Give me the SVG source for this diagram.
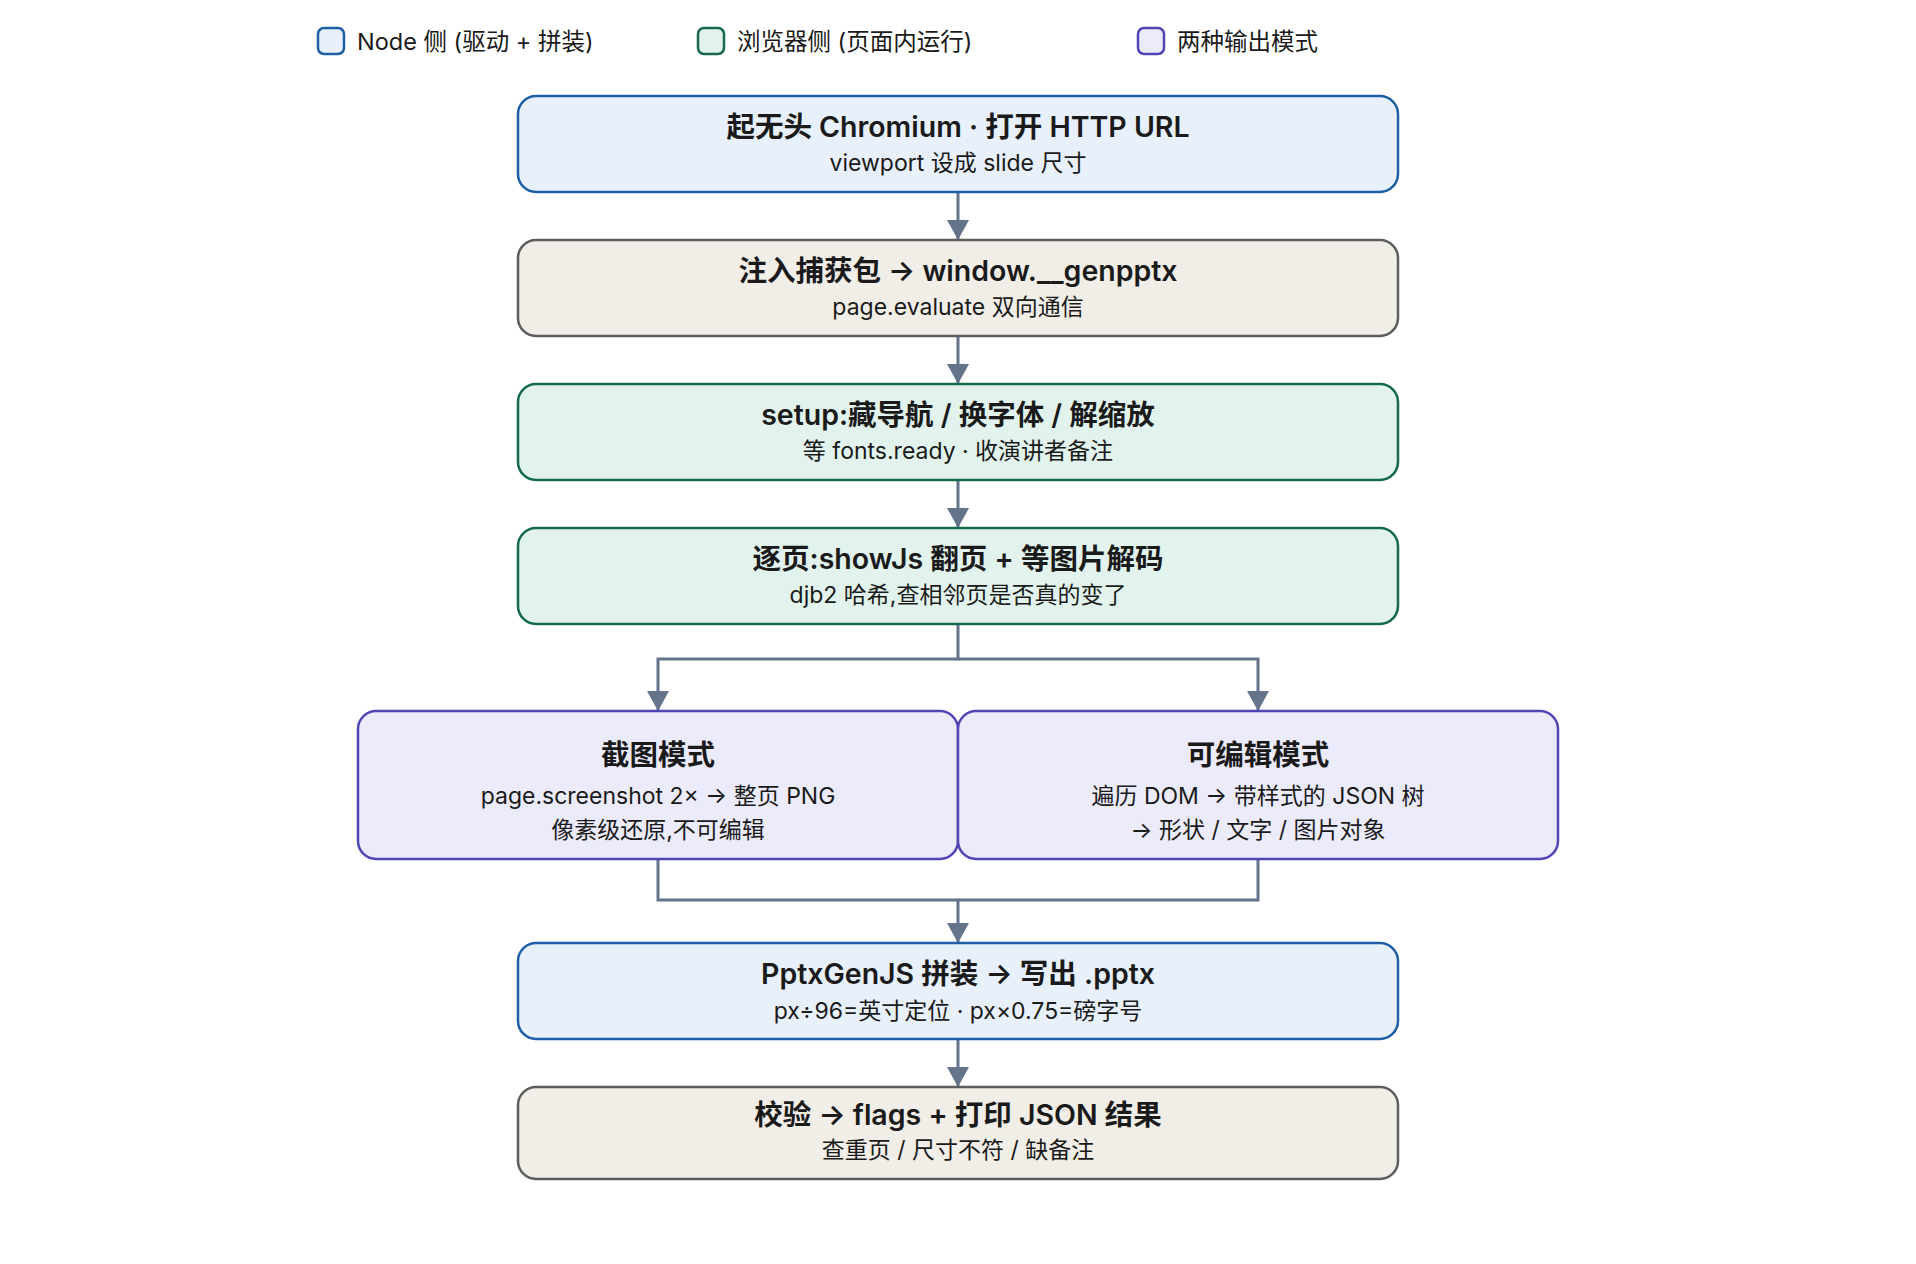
<svg xmlns="http://www.w3.org/2000/svg" width="1916" height="1264" viewBox="0 0 1916 1264">
<style>
text{font-family:Inter,"Noto Sans CJK SC","Noto Sans",sans-serif;fill:#1a1a1a;text-anchor:middle}
.t{font-size:28.5px;font-weight:600}
.s{font-size:23px;font-weight:400}
.lg{font-size:23.5px;text-anchor:start}
.blue{fill:#E7F0FB;stroke:#1F5FA8;stroke-width:2.5}
.beige{fill:#F1EEE8;stroke:#5E5E5E;stroke-width:2.5}
.green{fill:#E1F3EC;stroke:#17694C;stroke-width:2.5}
.purple{fill:#ECEBFB;stroke:#5046B4;stroke-width:2.5}
.c{fill:none;stroke:#64748B;stroke-width:3}
</style>
<defs>
<marker id="ah" viewBox="0 0 20 22" refX="20" refY="11" markerWidth="20" markerHeight="22" markerUnits="userSpaceOnUse" orient="auto">
<path d="M0,0 L20,11 L0,22 Z" fill="#64748B"/>
</marker>
</defs>
<rect width="1916" height="1264" fill="#fff"/>
<g id="legend">
<rect class="blue" x="318" y="28" width="26" height="26" rx="6"/>
<text class="lg" x="357" y="50">Node 侧 (驱动 + 拼装)</text>
<rect class="green" x="698" y="28" width="26" height="26" rx="6"/>
<text class="lg" x="737" y="50">浏览器侧 (页面内运行)</text>
<rect class="purple" x="1138" y="28" width="26" height="26" rx="6"/>
<text class="lg" x="1177" y="50">两种输出模式</text>
</g>
<g id="connectors">
<path class="c" d="M958 192 V240" marker-end="url(#ah)"/>
<path class="c" d="M958 336 V384" marker-end="url(#ah)"/>
<path class="c" d="M958 480 V528" marker-end="url(#ah)"/>
<path class="c" d="M958 624 V659 H658 V711" marker-end="url(#ah)"/>
<path class="c" d="M958 659 H1258 V711" marker-end="url(#ah)"/>
<path class="c" d="M658 859 V900 H958 V943" marker-end="url(#ah)"/>
<path class="c" d="M1258 859 V900 H958"/>
<path class="c" d="M958 1039 V1087" marker-end="url(#ah)"/>
</g>
<g id="n1">
<rect class="blue" x="518" y="96" width="880" height="96" rx="18"/>
<text class="t" x="958" y="137">起无头 Chromium · 打开 HTTP URL</text>
<text class="s" x="958" y="171">viewport 设成 slide 尺寸</text>
</g>
<g id="n2">
<rect class="beige" x="518" y="240" width="880" height="96" rx="18"/>
<text class="t" x="958" y="281">注入捕获包 → window.__genpptx</text>
<text class="s" x="958" y="315">page.evaluate 双向通信</text>
</g>
<g id="n3">
<rect class="green" x="518" y="384" width="880" height="96" rx="18"/>
<text class="t" x="958" y="425">setup:藏导航 / 换字体 / 解缩放</text>
<text class="s" x="958" y="459">等 fonts.ready · 收演讲者备注</text>
</g>
<g id="n4">
<rect class="green" x="518" y="528" width="880" height="96" rx="18"/>
<text class="t" x="958" y="569">逐页:showJs 翻页 + 等图片解码</text>
<text class="s" x="958" y="603">djb2 哈希,查相邻页是否真的变了</text>
</g>
<g id="n5a">
<rect class="purple" x="358" y="711" width="600" height="148" rx="18"/>
<text class="t" x="658" y="765">截图模式</text>
<text class="s" x="658" y="804">page.screenshot 2× → 整页 PNG</text>
<text class="s" x="658" y="838">像素级还原,不可编辑</text>
</g>
<g id="n5b">
<rect class="purple" x="958" y="711" width="600" height="148" rx="18"/>
<text class="t" x="1258" y="765">可编辑模式</text>
<text class="s" x="1258" y="804">遍历 DOM → 带样式的 JSON 树</text>
<text class="s" x="1258" y="838">→ 形状 / 文字 / 图片对象</text>
</g>
<g id="n6">
<rect class="blue" x="518" y="943" width="880" height="96" rx="18"/>
<text class="t" x="958" y="984">PptxGenJS 拼装 → 写出 .pptx</text>
<text class="s" x="958" y="1019">px÷96=英寸定位 · px×0.75=磅字号</text>
</g>
<g id="n7">
<rect class="beige" x="518" y="1087" width="880" height="92" rx="18"/>
<text class="t" x="958" y="1125">校验 → flags + 打印 JSON 结果</text>
<text class="s" x="958" y="1158">查重页 / 尺寸不符 / 缺备注</text>
</g>
</svg>
